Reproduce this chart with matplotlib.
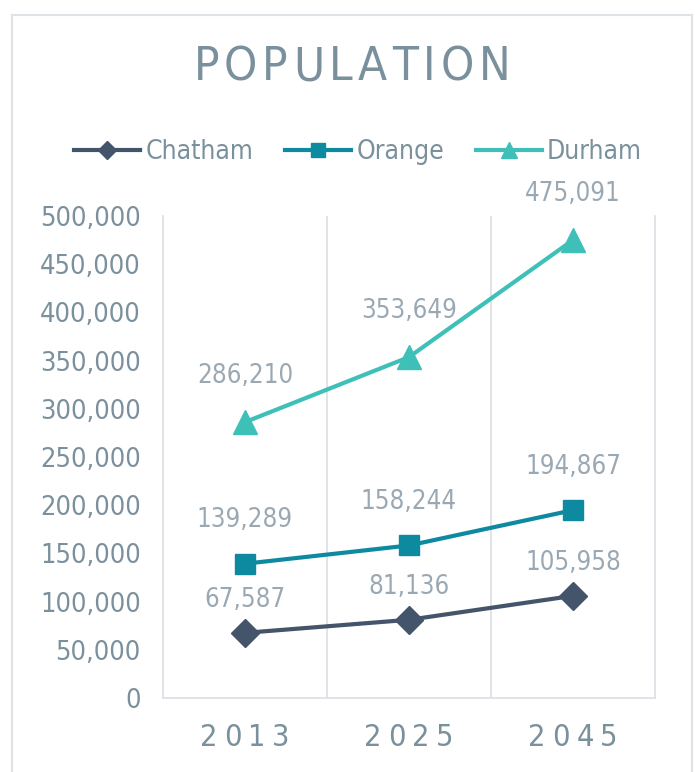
import matplotlib
matplotlib.use("Agg")
import matplotlib.pyplot as plt
from matplotlib.lines import Line2D
from matplotlib.patches import Rectangle

years = ["2013", "2025", "2045"]
chatham = [67587, 81136, 105958]
orange = [139289, 158244, 194867]
durham = [286210, 353649, 475091]
series_names = ["Chatham", "Orange", "Durham"]
yticks = [0, 50000, 100000, 150000, 200000, 250000, 300000, 350000, 400000, 450000, 500000]

plt.rcParams['font.family'] = ['DejaVu Sans']
plt.rcParams['font.stretch'] = 'condensed'

C_CH = "#44546A"
C_OR = "#0E8AA0"
C_DU = "#3EC0B8"
TXT = "#7A909C"
LBL = "#9AA8B3"
GRID = "#DDE2E6"

W, H = 695, 772
fig = plt.figure(figsize=(W/100, H/100), dpi=100)
fig.patch.set_facecolor("white")
fig.add_artist(Rectangle((12/W, -10/H), (692-12)/W, (757+10)/H, transform=fig.transFigure,
                         fill=False, edgecolor="#DDE3E7", linewidth=1.5, clip_on=False))

ax = fig.add_axes([163/W, 1-698/H, (655-163)/W, (698-216)/H])
x = list(range(len(years)))
styles = [(chatham, C_CH, "D", 14), (orange, C_OR, "s", 15), (durham, C_DU, "^", 17)]
handles = []
offsets = [14, 22, 24]
for (vals, c, m, ms), name, off in zip(styles, series_names, offsets):
    ax.plot(x, vals, color=c, marker=m, markersize=ms, linewidth=3, zorder=3)
    handles.append(Line2D([0], [0], color=c, marker=m, markersize=ms*0.68, linewidth=3))
    for xi, v in zip(x, vals):
        ax.annotate(f"{v:,}", (xi, v), xytext=(0, off), textcoords="offset points",
                    ha="center", va="bottom", fontsize=18.5, color=LBL)

ax.set_xlim(-0.5, 2.5)
ax.set_ylim(0, 500000)
ax.set_yticks(yticks)
ax.set_yticklabels([f"{v:,}" for v in yticks], fontsize=19.5, color=TXT)
ax.tick_params(axis="y", length=0, pad=16)
ax.set_xticks([0.5, 1.5], minor=False)
ax.set_xticklabels([])
ax.tick_params(axis="x", length=0)
ax.grid(axis="x", color=GRID, linewidth=1.3)
for s in ["left", "right", "bottom"]:
    ax.spines[s].set_color(GRID)
    ax.spines[s].set_linewidth(1.3)
ax.spines["top"].set_visible(False)

fig.canvas.draw()
renderer = fig.canvas.get_renderer()

def spaced(x_center_px, y_px, s, size, track_px, color):
    ts = [fig.text(0, 0, ch, fontsize=size, color=color, va="center", ha="left") for ch in s]
    widths = [t.get_window_extent(renderer).width for t in ts]
    total = sum(widths) + track_px * (len(s) - 1)
    cur = x_center_px - total / 2
    for t, w in zip(ts, widths):
        t.set_position((cur / W, 1 - y_px / H))
        cur += w + track_px

spaced(352, 68, "POPULATION", 34, 5, TXT)
for xi, yr in zip(x, years):
    px = 163 + (xi + 0.5) * (655 - 163) / 3
    spaced(px, 738, yr, 22, 6.5, TXT)

fig.legend(handles, series_names, loc="center", bbox_to_anchor=(358/W, 1-152/H), ncol=3,
           frameon=False, fontsize=19, labelcolor=TXT, handlelength=2.5, handletextpad=0.2,
           columnspacing=1.2)

fig.savefig("out.png", dpi=100, facecolor="white")
